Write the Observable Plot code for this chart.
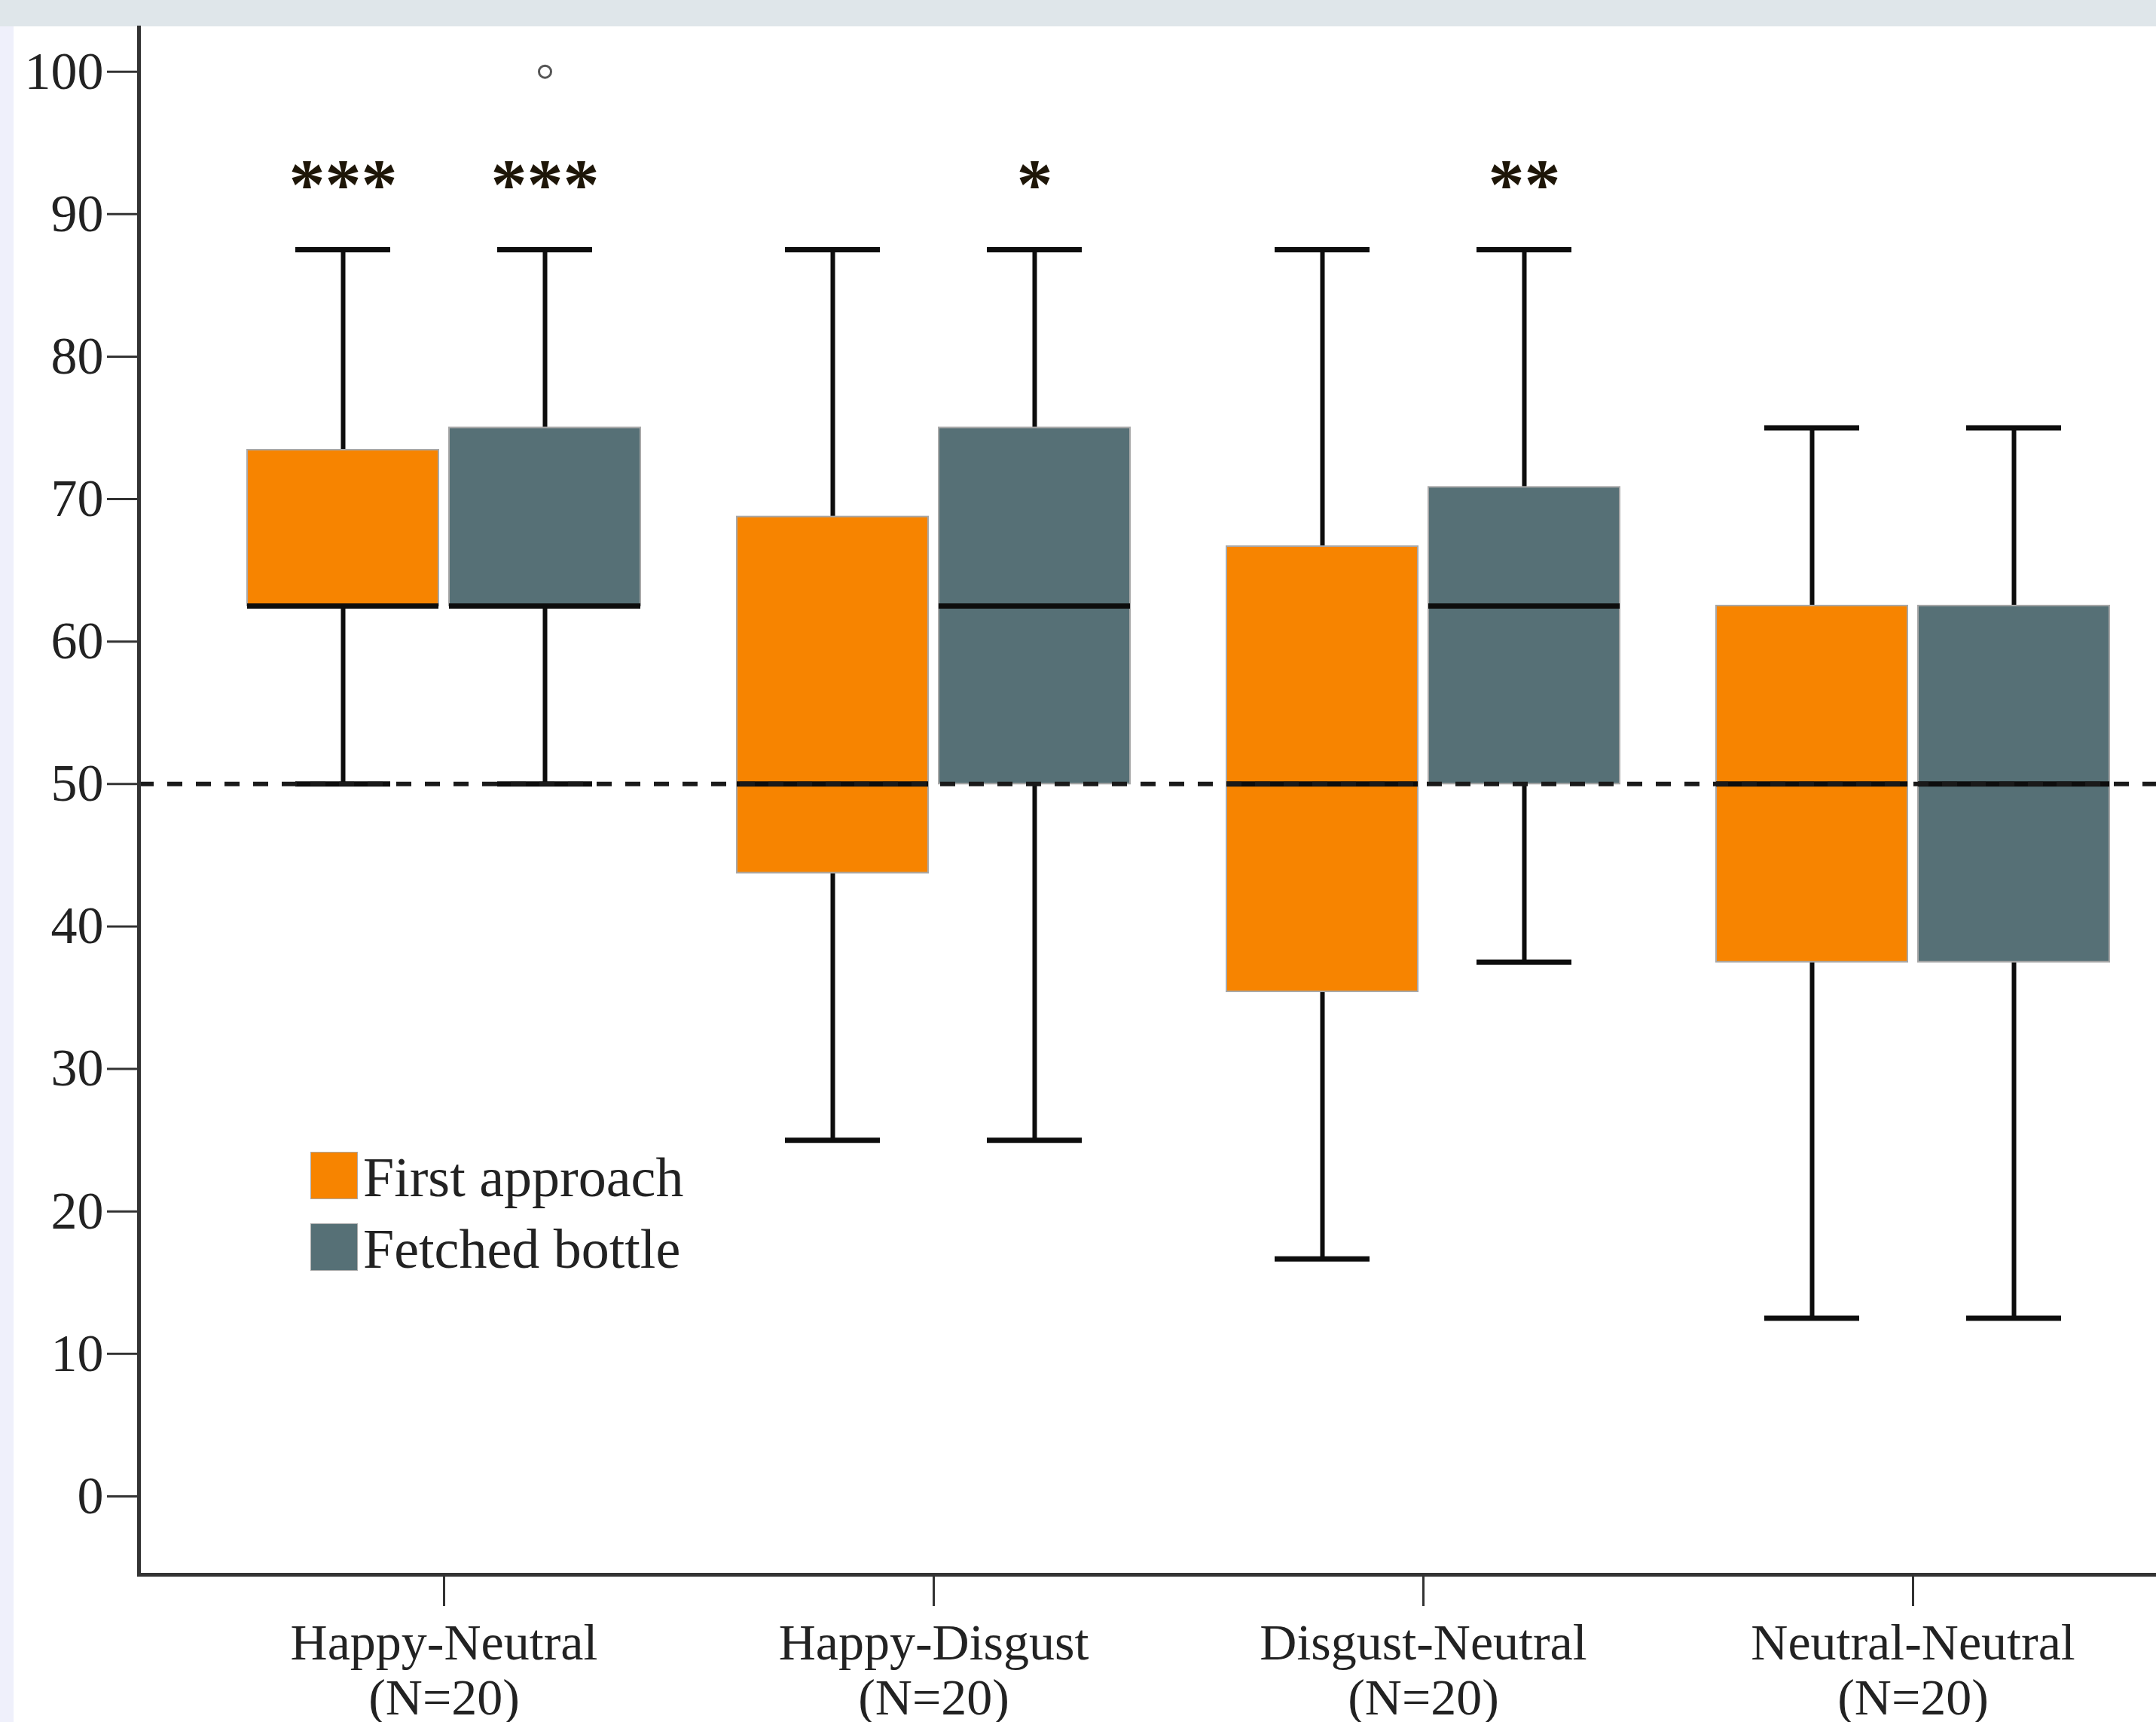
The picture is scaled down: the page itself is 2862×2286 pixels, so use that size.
<!DOCTYPE html>
<html><head><meta charset="utf-8">
<script src="https://cdn.jsdelivr.net/npm/d3@7"></script>
<script src="https://cdn.jsdelivr.net/npm/@observablehq/plot@0.6"></script>
<style>
html,body{margin:0;padding:0;background:#fff;overflow:hidden}
#page{position:relative;width:2862px;height:2286px;background:#fff}
#band{position:absolute;left:0;top:0;width:2862px;height:35px;background:#dfe6ea}
#strip{position:absolute;left:0;top:35px;width:18px;height:2251px;background:#eff0fb}
#chart{position:absolute;left:0;top:0}
#legend{position:absolute;left:412px;top:1529px;font-family:"Liberation Serif",serif;color:#222}
.row{position:relative;height:95px;width:600px}
.sw{position:absolute;left:0;top:0;width:61px;height:61px;border:1px solid #aaa}
.lab{position:absolute;left:70px;top:-3px;font-size:74px;line-height:74px;white-space:nowrap}
</style></head>
<body>
<div id="page">
  <div id="band"></div>
  <div id="strip"></div>
  <div id="chart"></div>
  <div id="legend"></div>
</div>
<script>
// ---- data ----
const groups = ["Happy-Neutral", "Happy-Disgust", "Disgust-Neutral", "Neutral-Neutral"];
const nLabels = ["(N=20)", "(N=20)", "(N=20)", "(N=20)"];
const seriesNames = ["First approach", "Fetched bottle"];
const seriesColors = ["#f78400", "#567076"];
const yTicks = [0, 10, 20, 30, 40, 50, 60, 70, 80, 90, 100];
const chanceLevel = [50];

const firstMin    = [50, 25, 16.67, 12.5];
const firstQ1     = [62.5, 43.75, 35.42, 37.5];
const firstMedian = [62.5, 50, 50, 50];
const firstQ3     = [73.44, 68.75, 66.67, 62.5];
const firstMax    = [87.5, 87.5, 87.5, 75];
const firstStars  = ["***", "", "", ""];

const fetchedMin    = [50, 25, 37.5, 12.5];
const fetchedQ1     = [62.5, 50, 50, 37.5];
const fetchedMedian = [62.5, 62.5, 62.5, 50];
const fetchedQ3     = [75, 75, 70.83, 62.5];
const fetchedMax    = [87.5, 87.5, 87.5, 75];
const fetchedStars  = ["***", "*", "**", ""];

const outlierGroups = ["Happy-Neutral"];
const outlierSeries = ["Fetched bottle"];
const outlierValues = [100];

const starLevel = 92;

// ---- build tables ----
function rows(series, mins, q1s, meds, q3s, maxs, stars) {
  return groups.map((g, i) => ({group: g, series, min: mins[i], q1: q1s[i], median: meds[i], q3: q3s[i], max: maxs[i], star: stars[i]}));
}
const firstRows = rows(seriesNames[0], firstMin, firstQ1, firstMedian, firstQ3, firstMax, firstStars);
const fetchedRows = rows(seriesNames[1], fetchedMin, fetchedQ1, fetchedMedian, fetchedQ3, fetchedMax, fetchedStars);
const outliers = outlierValues.map((v, i) => ({group: outlierGroups[i], series: outlierSeries[i], value: v}));

function boxMarks(data, side) {
  const boxIn = side < 0 ? {insetLeft: 64, insetRight: 332} : {insetLeft: 332, insetRight: 64};
  const capIn = side < 0 ? {insetLeft: 128, insetRight: 396} : {insetLeft: 396, insetRight: 128};
  const dx = side * 134;
  return [
    Plot.ruleX(data, {x: "group", y1: "min", y2: "q1", dx, stroke: "#0d0d0d", strokeWidth: 6}),
    Plot.ruleX(data, {x: "group", y1: "q3", y2: "max", dx, stroke: "#0d0d0d", strokeWidth: 6}),
    Plot.barY(data, {x: "group", y1: "q1", y2: "q3", fill: "series", stroke: "#a8a8a8", strokeWidth: 2, ...boxIn}),
    Plot.tickY(data, {x: "group", y: "median", stroke: "#0d0d0d", strokeWidth: 7, ...boxIn}),
    Plot.tickY(data, {x: "group", y: "min", stroke: "#0d0d0d", strokeWidth: 7, ...capIn}),
    Plot.tickY(data, {x: "group", y: "max", stroke: "#0d0d0d", strokeWidth: 7, ...capIn}),
    Plot.text(data, {x: "group", y: () => starLevel, text: "star", dx, fontSize: 96, fontWeight: "bold", fill: "#1e1608"})
  ];
}

const chart = Plot.plot({
  width: 2862,
  height: 2286,
  marginLeft: 184,
  marginRight: 0,
  marginTop: 36,
  marginBottom: 196,
  style: {fontFamily: "'Liberation Serif', serif", color: "#222", background: "transparent", overflow: "visible"},
  x: {type: "band", domain: groups, range: [264, 2864], padding: 0},
  y: {domain: [-5.5, 103.1]},
  color: {domain: seriesNames, range: seriesColors},
  marks: [
    ...boxMarks(firstRows, -1),
    ...boxMarks(fetchedRows, 1),
    Plot.ruleY(chanceLevel, {stroke: "#1a1a1a", strokeWidth: 6, strokeDasharray: "20,18"}),
    Plot.dot(outliers, {x: "group", y: "value", dx: 134, r: 8, stroke: "#555", strokeWidth: 3, fill: "none"}),
    Plot.axisY({ticks: yTicks, tickSize: 42, tickPadding: 5, fontSize: 70, strokeWidth: 3, stroke: "#333", label: null}),
    Plot.axisX({tickSize: 42, tickPadding: 18, fontSize: 68, lineHeight: 1.08, strokeWidth: 3, stroke: "#333",
      tickFormat: d => d + "\n" + nLabels[groups.indexOf(d)], label: null}),
    Plot.frame({anchor: "left", stroke: "#333", strokeWidth: 5}),
    Plot.frame({anchor: "bottom", stroke: "#333", strokeWidth: 5})
  ]
});
document.getElementById("chart").appendChild(chart);

// legend (inside plot area, as in the reference)
const legend = document.getElementById("legend");
seriesNames.forEach((name, i) => {
  const row = document.createElement("div");
  row.className = "row";
  const sw = document.createElement("div");
  sw.className = "sw";
  sw.style.background = seriesColors[i];
  const lab = document.createElement("span");
  lab.className = "lab";
  lab.textContent = name;
  row.appendChild(sw);
  row.appendChild(lab);
  legend.appendChild(row);
});
</script>
</body></html>
